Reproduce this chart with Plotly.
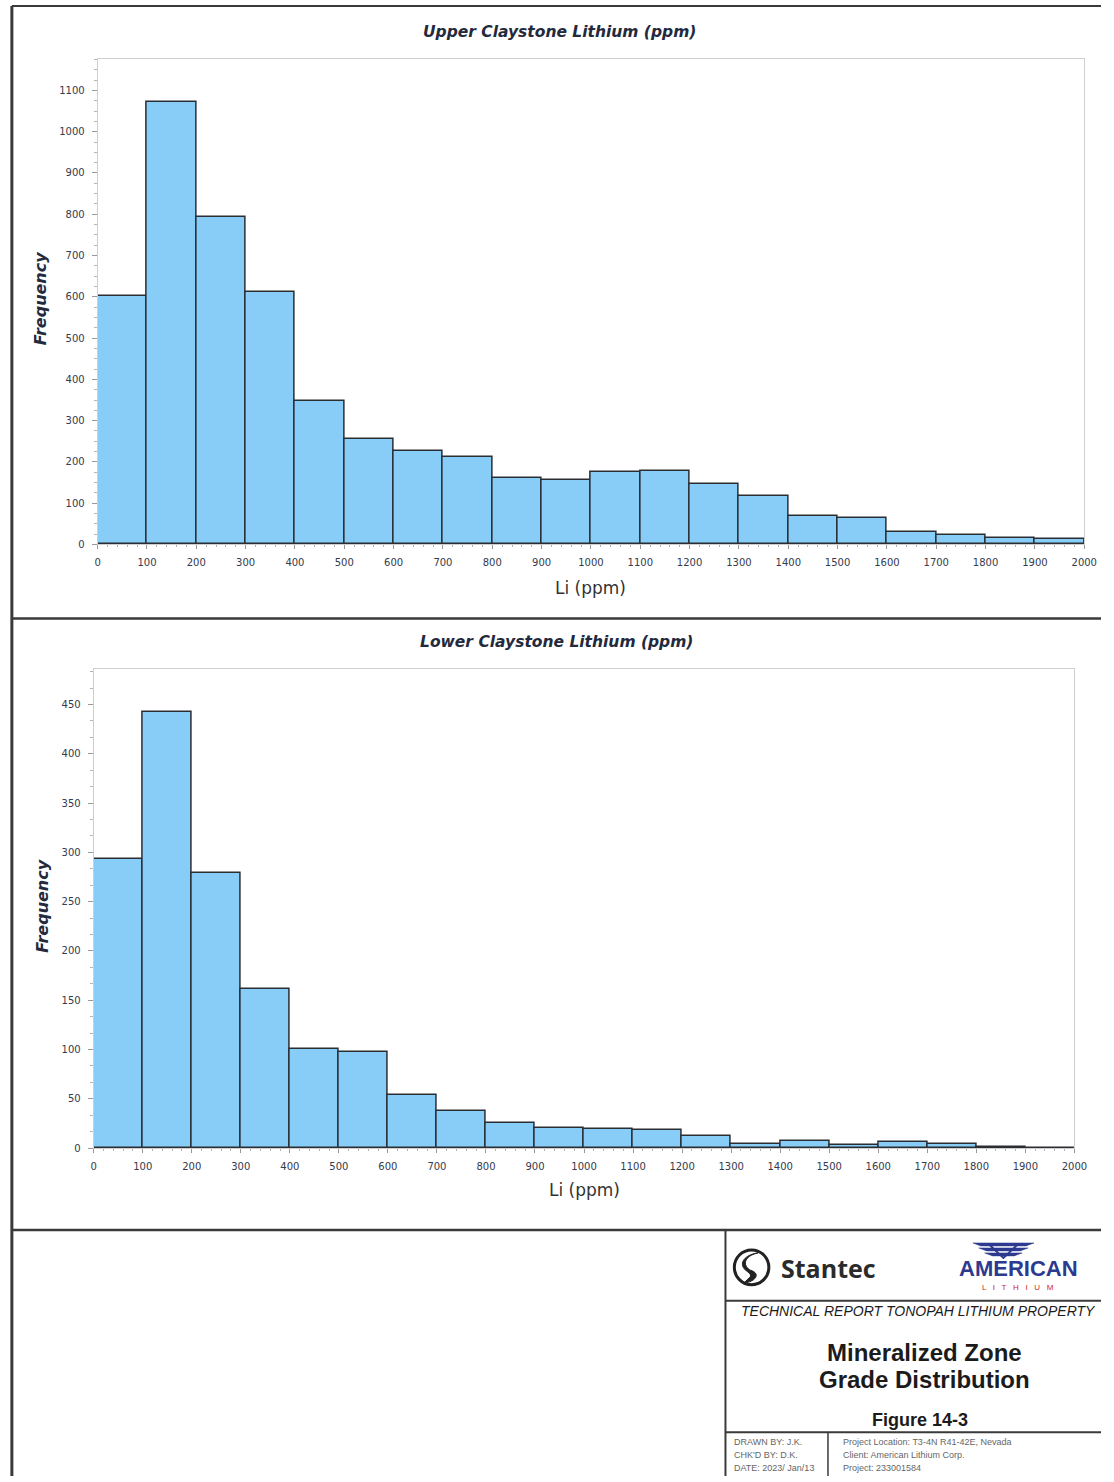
import plotly.graph_objects as go

# ---------------- data ----------------
bin_starts = [0, 100, 200, 300, 400, 500, 600, 700, 800, 900, 1000,
              1100, 1200, 1300, 1400, 1500, 1600, 1700, 1800, 1900]
bin_width = 100
upper_freq = [603, 1071, 793, 612, 348, 256, 227, 213, 160, 155, 176,
              179, 147, 118, 70, 65, 29, 24, 16, 14]
lower_freq = [293, 442, 279, 161, 101, 97, 54, 38, 25, 20, 19,
              18, 12, 4, 7, 3, 6, 4, 1, 0]
upper_title = "Upper Claystone Lithium (ppm)"
lower_title = "Lower Claystone Lithium (ppm)"
x_title = "Li (ppm)"
y_title = "Frequency"
x_ticks = list(range(0, 2001, 100))

W, H = 1114, 1482


def px(x):
    return x / W


def py(y):
    return 1 - y / H


BAR_FILL = "#87CDF8"
BAR_LINE = "#2a2e33"
TICK_FONT = dict(family="DejaVu Sans", size=10, color="#353a4c")
AX_LINE = "#cfcfcf"

fig = go.Figure()
fig.add_trace(go.Bar(x=bin_starts, y=upper_freq, width=[bin_width] * len(bin_starts),
                     offset=0, marker=dict(color=BAR_FILL, line=dict(color=BAR_LINE, width=1.5)),
                     xaxis="x", yaxis="y", showlegend=False, hoverinfo="x+y"))
fig.add_trace(go.Bar(x=bin_starts, y=lower_freq, width=[bin_width] * len(bin_starts),
                     offset=0, marker=dict(color=BAR_FILL, line=dict(color=BAR_LINE, width=1.5)),
                     xaxis="x2", yaxis="y2", showlegend=False, hoverinfo="x+y"))


def xaxis_cfg(domain, anchor):
    return dict(domain=domain, anchor=anchor, range=[0, 2000], tickvals=x_ticks,
                ticks="outside", ticklen=4, tickcolor="#9a9a9a", tickfont=TICK_FONT,
                showline=True, linecolor=AX_LINE, linewidth=1, mirror=True,
                showgrid=False, zeroline=False, ticklabelstandoff=5,
                minor=dict(dtick=20, ticks="outside", ticklen=2, tickcolor="#b5b5b5"))


def yaxis_cfg(domain, anchor, rng, dtick, minor_dtick):
    return dict(domain=domain, anchor=anchor, range=rng, dtick=dtick, tick0=0,
                ticks="outside", ticklen=5, tickcolor="#9a9a9a", tickfont=TICK_FONT,
                showline=True, linecolor=AX_LINE, linewidth=1, mirror=True,
                showgrid=False, zeroline=False, ticklabelstandoff=5,
                minor=dict(dtick=minor_dtick, ticks="outside", ticklen=3, tickcolor="#b5b5b5"))


shapes = []


def line(x0, y0, x1, y1, w=2, c="#3a3a3a"):
    shapes.append(dict(type="line", xref="paper", yref="paper",
                       x0=px(x0), y0=py(y0), x1=px(x1), y1=py(y1),
                       line=dict(color=c, width=w)))


# page frame
line(9, 6, 9, 1482, w=3)
line(9, 6, 1114, 6, w=2)
line(9, 621, 1114, 621, w=2.5)
line(9, 1235, 1114, 1235, w=2.5)
# title block
line(733, 1235, 733, 1482, w=2)
line(733, 1306, 1114, 1306, w=2)
line(733, 1438, 1114, 1438, w=2)
line(837, 1438, 837, 1482, w=1.5)

# Stantec logo mark
shapes.append(dict(type="circle", xref="paper", yref="paper",
                   x0=px(742), y0=py(1290), x1=px(777), y1=py(1255),
                   line=dict(color="#222222", width=3)))
shapes.append(dict(type="path", xref="paper", yref="paper",
                   path=f"M {px(766)},{py(1258)} C {px(748)},{py(1262)} {px(752)},{py(1274)} {px(760)},{py(1276)} "
                        f"C {px(768)},{py(1279)} {px(764)},{py(1287)} {px(752)},{py(1288)} "
                        f"L {px(756)},{py(1284)} C {px(762)},{py(1280)} {px(756)},{py(1278)} {px(752)},{py(1274)} "
                        f"C {px(746)},{py(1266)} {px(756)},{py(1259)} {px(766)},{py(1258)} Z",
                   fillcolor="#222222", line=dict(color="#222222", width=1)))
# American Lithium wings
NAVY = "#2c3a8f"
for (ya, yb, xa, xb) in [(1248, 1251, 984, 1046), (1253, 1256, 990, 1040), (1258, 1261, 996, 1034)]:
    shapes.append(dict(type="path", xref="paper", yref="paper",
                       path=f"M {px(xa)},{py(ya)} L {px(xb)},{py(ya)} L {px(xb-8)},{py(yb)} L {px(xa+8)},{py(yb)} Z",
                       fillcolor=NAVY, line=dict(color=NAVY, width=0.5)))
shapes.append(dict(type="path", xref="paper", yref="paper",
                   path=f"M {px(1000)},{py(1249)} L {px(1015)},{py(1263)} L {px(1030)},{py(1249)}",
                   line=dict(color=NAVY, width=2)))

ann = []


def text(x, y, s, size, color="#1b1b1b", family="Liberation Sans", angle=0, xanchor="center",
         yanchor="middle"):
    ann.append(dict(x=px(x), y=py(y), xref="paper", yref="paper", text=s, showarrow=False,
                    font=dict(family=family, size=size, color=color), textangle=angle,
                    xanchor=xanchor, yanchor=yanchor, borderpad=0))


# chart titles
text(565, 32, f"<b><i>{upper_title}</i></b>", 15.5, color="#232a3d", family="DejaVu Sans")
text(562, 645, f"<b><i>{lower_title}</i></b>", 15.5, color="#232a3d", family="DejaVu Sans")
text(38, 300, f"<b><i>{y_title}</i></b>", 16, color="#232a3d", family="DejaVu Sans", angle=-90)
text(40, 910, f"<b><i>{y_title}</i></b>", 16, color="#232a3d", family="DejaVu Sans", angle=-90)
text(596, 590, x_title, 17, color="#333333", family="DejaVu Sans")
text(590, 1195, x_title, 17, color="#333333", family="DejaVu Sans")

# title block
text(788, 1273, "<b>Stantec</b>", 25, color="#2b2b2b", family="Open Sans", xanchor="left")
text(1030, 1287, "<b>AMERICAN</b>", 22, color=NAVY, family="Liberation Sans", yanchor="bottom")
text(1030, 1287, "L   I   T   H   I   U   M", 8, color="#d2232a", family="Liberation Sans",
     yanchor="top")
text(929, 1316, "<i>TECHNICAL REPORT TONOPAH LITHIUM PROPERTY</i>", 14, color="#1b1b1b")
text(935, 1358, "<b>Mineralized Zone</b>", 24)
text(935, 1385, "<b>Grade Distribution</b>", 24)
text(930, 1426, "<b>Figure 14-3</b>", 18)
SMALL = 9
text(741, 1448, "DRAWN BY: J.K.", SMALL, color="#666666", xanchor="left")
text(741, 1461, "CHK'D BY: D.K.", SMALL, color="#666666", xanchor="left")
text(741, 1474, "DATE: 2023/ Jan/13", SMALL, color="#666666", xanchor="left")
text(851, 1448, "Project Location: T3-4N R41-42E, Nevada", SMALL, color="#666666", xanchor="left")
text(851, 1461, "Client: American Lithium Corp.", SMALL, color="#666666", xanchor="left")
text(851, 1474, "Project: 233001584", SMALL, color="#666666", xanchor="left")

fig.update_layout(
    width=W, height=H, margin=dict(l=0, r=0, t=0, b=0),
    paper_bgcolor="white", plot_bgcolor="white",
    bargap=0, showlegend=False,
    xaxis=xaxis_cfg([px(96), px(1097)], "y"),
    yaxis=yaxis_cfg([py(546.7), py(59.3)], "x", [0, 1176], 100, 25),
    xaxis2=xaxis_cfg([px(92), px(1087)], "y2"),
    yaxis2=yaxis_cfg([py(1152.7), py(671.7)], "x2", [0, 486], 50, 50 / 3),
    shapes=shapes, annotations=ann,
)

fig.write_html("out.html")
